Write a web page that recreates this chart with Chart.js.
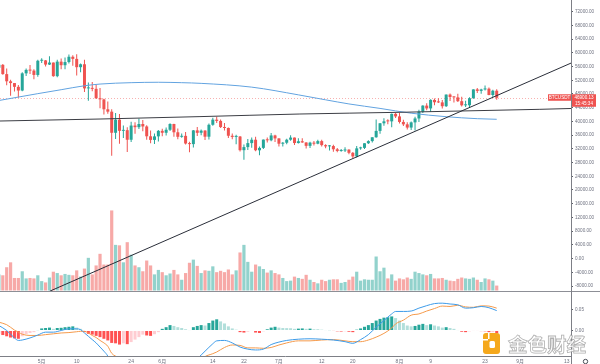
<!DOCTYPE html>
<html>
<head>
<meta charset="utf-8">
<script src="https://cdn.jsdelivr.net/npm/chart.js@4.4.1/dist/chart.umd.min.js"></script>
<style>
html,body{margin:0;padding:0;background:#ffffff;}
#wrap{width:600px;height:364px;position:relative;overflow:hidden;}
</style>
</head>
<body>
<div id="wrap"><canvas id="c" width="600" height="364"></canvas></div>
<script>
// ---------- DATA (day index: 0 = 1 May 2021, first candle = 20 Apr) ----------
const firstDay = -11;
const opens = [55664,56499,53800,51701,51187,50089,49004,54021,55033,54824,53555,
57697,57797,56578,57169,53200,57436,56393,57314,58862,58240,55816,
56670,49631,49671,49500,46762,46431,43538,42849,36690,40526,
37252,37449,34655,38796,38324,39241,38529,35663,34606,35641,
37253,36694,37568,39246,36829,35517,35796,33556,33381,37389,
36697,37340,35546,39020,40517,40144,38349,38093,35820,35483,
35601,31614,32510,33675,34663,31577,32283,34702,34494,35911,
35045,33502,33787,34668,35288,33690,34220,33862,32875,33815,
33502,34259,33086,32730,32820,31874,31384,31520,31778,30839,
29790,32144,32287,33635,34259,35376,37242,39456,40019,40018,
42206,41461,39850,39146,38207,39723,40862,42836,44614,43794,
46281,45596,45551,44439,47834,47110,47014,45903,44696,44709,
46769,49339,48906,49322,49547,47706,48960];
const highs = [57038,56757,55410,52130,51200,50591,54356,55460,56428,55195,58000,
58458,57911,58981,57200,57963,58360,58650,59500,59300,59592,56862,
58000,51367,51483,50700,49720,46643,45799,43546,42451,42200,
38829,38270,39920,39791,40841,40411,38877,37338,36488,37499,
37894,38225,39476,39289,37925,36480,36900,34068,37534,38400,
37680,37436,39380,41064,41330,40528,39560,38202,36457,36138,
35750,33298,34881,35298,35500,32700,34749,35297,36600,36100,
35057,33977,34945,35967,35293,35118,35059,33929,34100,34262,
34666,34679,33340,33114,33185,32249,31936,32435,31899,31063,
32858,32591,33650,34500,35398,40550,39542,40900,40640,42317,
42448,42599,40459,39780,39969,41350,43392,44700,45310,46454,
46700,46743,46218,47886,48144,47372,48053,47160,46000,47033,
49382,49757,49500,50500,49875,49229,49368];
const lows = [53329,53596,50583,47500,48753,46930,48817,53222,53813,52330,53013,
57052,56035,56435,53046,52900,55200,55241,56900,56235,53400,54370,
48600,46000,48800,46555,43825,42001,42250,30000,34850,33488,
35200,31111,34031,36419,37800,37134,34684,33632,33379,34153,
35667,35920,37170,35555,34800,35258,33300,31000,32397,35782,
35936,34600,34758,38730,39506,38116,37365,35129,34803,33336,
31251,28805,31683,32286,31275,30151,31973,33862,34225,34017,
32711,32699,33316,34357,33125,33532,33777,32078,32261,33004,
33306,32658,32202,31550,31133,31020,31164,31108,30408,29278,
29482,31708,31925,33401,33851,35205,36383,38772,39200,38313,
41000,39422,38690,37642,37508,37332,39853,42446,43261,42779,
44723,45341,43770,44217,45971,45500,45660,44376,44203,43927,
46644,48274,48050,49029,47600,47119,46300];
const closes = [56499,53800,51701,51187,50089,49004,54021,55033,54824,53555,57697,
57797,56578,57169,53200,57436,56393,57314,58862,58240,55816,56670,
49631,49671,49500,46762,46431,43538,42849,36690,40526,37252,
37449,34655,38796,38324,39241,38529,35663,34605,35641,37253,
36693,37568,39246,36829,35513,35796,33552,33380,37388,36675,
37313,35546,39020,40516,40144,38349,38092,35820,35483,35600,
31608,32509,33678,34663,31584,32283,34700,34494,35911,35045,
33504,33787,34668,35287,33690,34220,33862,32875,33815,33502,
34259,33086,32729,32820,31880,31383,31520,31778,30839,29791,
32144,32287,33634,34258,35381,37237,39457,40020,40016,42206,
41461,39846,39147,38207,39723,40862,42836,44614,43792,46285,
45595,45551,44428,47833,47110,47014,45902,44696,44705,46760,
49339,48905,49321,49546,47706,48960,46900.13];
const volumes = [36,34,52,63,28,28,43,27,28,27,34,
21,18,29,42,39,34,37,35,34,45,31,
49,73,36,56,82,58,58,179,102,101,
63,108,80,56,52,43,67,56,36,46,
41,34,38,46,36,24,39,62,69,55,
39,45,44,54,41,44,41,47,36,45,
85,102,64,42,58,54,48,40,45,39,
36,28,21,22,31,28,26,35,24,19,
16,24,21,24,25,25,17,19,24,31,
42,22,25,24,24,76,43,51,27,36,
22,27,25,29,26,42,39,36,34,37,
27,27,28,24,22,21,26,29,27,26,
29,24,19,27,25,22,11];
const macdHist = [-0.008,-0.011,-0.014,-0.017,-0.019,-0.020,-0.014,-0.009,-0.006,-0.004,0.001,
0.005,0.006,0.007,0.004,0.006,0.0065,0.008,0.009,0.010,0.007,0.004,
-0.004,-0.008,-0.010,-0.013,-0.016,-0.020,-0.024,-0.030,-0.031,-0.034,
-0.031,-0.033,-0.028,-0.022,-0.016,-0.010,-0.012,-0.013,-0.009,-0.004,
0.004,0.008,0.013,0.011,0.008,0.006,0.003,0.001,0.008,0.011,
0.013,0.012,0.018,0.024,0.027,0.022,0.017,0.010,0.005,0.002,
-0.004,-0.005,-0.003,-0.001,-0.005,-0.006,-0.002,0.003,0.007,0.009,
0.007,0.006,0.0058,0.0055,0.004,0.0045,0.005,0.004,0.0045,0.003,
0.003,0.002,0.001,0.0005,-0.001,-0.002,-0.0025,-0.002,-0.003,-0.004,
0.002,0.005,0.009,0.013,0.018,0.024,0.028,0.031,0.032,0.034,
0.030,0.024,0.018,0.012,0.010,0.011,0.014,0.016,0.013,0.015,
0.012,0.010,0.007,0.008,0.006,0.004,0.001,-0.003,-0.004,-0.002,
-0.001,-0.001,-0.0015,-0.002,-0.004,-0.004,-0.006];

// moving average (blue)
const maDays   = [-11,-6,-1,5,11,15,23,30,36,41,54,66,73,79,87,95,104,112,117];
const maValues = [46100,47100,48100,49250,50400,50900,51300,51420,51300,51100,50000,47750,46300,45100,43800,42400,41380,40800,40620];
// near-horizontal black line
const levelDays   = [-10.72,15,40.7,66.4,92.1,128.1,136.1];
const levelValues = [40120,40700,41400,42160,42660,43530,43770];
// rising trend line
const trendDays   = [2,136.1];
const trendValues = [-9550,57010];
// MACD / signal lines
const macdDays = [-11,-9,-7,-6,-5,-3,-1,1,3,5,7,9,10,11,12,13,14,15,16,17,18,20,22,24,26,28,30,32,34,36,38,40,42,44,45,47,49,51,53,55,57,59,61,63,66,69,72,75,78,80,82,84,86,88,90,91,93,95,97,99,101,103,105,107,109,111,113,115,117];
const macdValues = [0.012,0.000,-0.018,-0.024,-0.023,-0.018,-0.011,-0.004,-0.004,0.000,0.004,0.004,0.002,-0.006,-0.014,-0.022,-0.030,-0.040,-0.050,-0.062,-0.085,-0.100,-0.110,-0.110,-0.106,-0.108,-0.104,-0.094,-0.086,-0.084,-0.082,-0.068,-0.050,-0.032,-0.025,-0.024,-0.030,-0.040,-0.045,-0.047,-0.045,-0.034,-0.028,-0.024,-0.021,-0.020,-0.021,-0.023,-0.027,-0.031,-0.022,-0.010,0.008,0.024,0.040,0.046,0.046,0.047,0.054,0.060,0.065,0.066,0.064,0.062,0.054,0.055,0.058,0.055,0.048];
const signalValues = [0.020,0.014,0.001,-0.004,-0.009,-0.012,-0.012,-0.010,-0.008,-0.006,-0.005,-0.003,-0.002,-0.002,-0.006,-0.012,-0.017,-0.024,-0.030,-0.038,-0.055,-0.066,-0.077,-0.088,-0.096,-0.095,-0.100,-0.102,-0.097,-0.090,-0.083,-0.079,-0.063,-0.056,-0.052,-0.041,-0.035,-0.036,-0.042,-0.042,-0.043,-0.041,-0.035,-0.030,-0.025,-0.025,-0.023,-0.022,-0.025,-0.027,-0.027,-0.023,-0.016,-0.007,0.006,0.016,0.025,0.037,0.040,0.047,0.053,0.059,0.058,0.061,0.057,0.056,0.0595,0.059,0.054];

// axis ticks
const xTickDays   = [0,9,23,31,44,52,61,72,80,92,100,114,123,135];
const xTickLabels = ['5月','10','24','6月','14','22','7月','12','20','8月','9','23','9月','13'];
const priceTicks  = [72000,68000,64000,60000,56000,52000,48000,44000,40000,36000,32000,28000,24000,20000,16000,12000,8000,4000,0,-4000,-8000];
const macdTicks   = [0,0.05];
const symbol = 'BTCUSDT';
const countdown = '15:45:34';

// ---------- STYLE ----------
const UP = '#26a69a', DOWN = '#ef5350';
const VOL_UP = 'rgba(38,166,154,0.5)', VOL_DOWN = 'rgba(239,83,80,0.5)';
const FONT = '"Liberation Sans", "Noto Sans CJK SC", sans-serif';
const TXT = '#6f7280';

const days = opens.map((_, i) => firstDay + i);
const up = i => closes[i] >= opens[i];
const histColor = macdHist.map((v, i) => {
  const p = i > 0 ? macdHist[i - 1] : v;
  if (v >= 0) return v > p ? '#26a69a' : '#b2dfdb';
  return v < p ? '#ff5252' : '#ffcdd2';
});
const lastClose = closes[closes.length - 1];

const overlay = {
  id: 'overlay',
  beforeDatasetsDraw(chart) {
    const ctx = chart.ctx, a = chart.chartArea;
    const y = Math.round(chart.scales.y.getPixelForValue(lastClose)) + 0.5;
    ctx.save();
    ctx.strokeStyle = 'rgba(239,83,80,0.45)';
    ctx.setLineDash([1, 2]);
    ctx.lineWidth = 1;
    ctx.beginPath(); ctx.moveTo(a.left, y); ctx.lineTo(a.right, y); ctx.stroke();
    ctx.restore();
  },
  afterDraw(chart) {
    const ctx = chart.ctx, a = chart.chartArea;
    const ys = chart.scales.y;
    ctx.save();
    ctx.lineWidth = 1;
    ctx.strokeStyle = '#8d8f96';
    const sep = Math.round(ys.bottom) + 0.5;
    ctx.beginPath(); ctx.moveTo(0, sep); ctx.lineTo(600, sep); ctx.stroke();
    ctx.strokeStyle = '#7d7f86';
    ctx.beginPath(); ctx.moveTo(a.left, a.bottom + 0.5); ctx.lineTo(a.right, a.bottom + 0.5); ctx.stroke();
    ctx.beginPath(); ctx.moveTo(a.right + 0.5, 0); ctx.lineTo(a.right + 0.5, 364); ctx.stroke();

    // last price labels
    const py = ys.getPixelForValue(lastClose);
    const col = closes[closes.length - 1] >= opens[opens.length - 1] ? UP : DOWN;
    ctx.fillStyle = col;
    ctx.fillRect(548, py - 3.5, 23, 6.5);
    ctx.fillRect(a.right + 1, py - 3.5, 24, 12.5);
    ctx.fillStyle = '#ffffff';
    ctx.font = '4.6px ' + FONT;
    ctx.textBaseline = 'middle';
    ctx.textAlign = 'center';
    ctx.fillText(symbol, 559.5, py);
    ctx.fillText(lastClose.toFixed(2), a.right + 13, py);
    ctx.fillText(countdown, a.right + 13, py + 6);

    // watermark
    ctx.fillStyle = '#f5a81c';
    ctx.beginPath();
    ctx.roundRect(483, 333, 17, 21, 3);
    ctx.fill();
    ctx.fillStyle = '#ffffff';
    ctx.fillRect(483, 339, 5, 1.5);
    ctx.fillRect(488, 333, 1.5, 6);
    ctx.beginPath();
    ctx.roundRect(489.5, 341, 5.5, 7, 1.5);
    ctx.fill();
    ctx.font = 'bold 19.5px "Noto Sans CJK SC", sans-serif';
    ctx.textAlign = 'left';
    ctx.textBaseline = 'middle';
    ctx.fillStyle = 'rgba(255,255,255,0.85)';
    ctx.fillText('金色财经', 508, 345);
    ctx.strokeStyle = 'rgba(150,150,150,0.75)';
    ctx.lineWidth = 0.8;
    ctx.strokeText('金色财经', 508, 345);

    // settings icon
    ctx.strokeStyle = '#4a4d57';
    ctx.lineWidth = 1;
    ctx.beginPath(); ctx.arc(585.5, 361.5, 2.2, 0, Math.PI * 2); ctx.stroke();
    ctx.restore();
  }
};

new Chart(document.getElementById('c'), {
  type: 'bar',
  data: {
    datasets: [
      { type: 'line', data: trendDays.map((d, i) => ({ x: d, y: trendValues[i] })),
        borderColor: '#2a2e39', borderWidth: 1, pointRadius: 0, yAxisID: 'y', clip: 0 },
      { type: 'line', data: levelDays.map((d, i) => ({ x: d, y: levelValues[i] })),
        borderColor: '#3b3d44', borderWidth: 1, pointRadius: 0, cubicInterpolationMode: 'monotone', yAxisID: 'y', clip: 0 },
      { type: 'line', data: maDays.map((d, i) => ({ x: d, y: maValues[i] })),
        borderColor: '#62a3e0', borderWidth: 1, pointRadius: 0, cubicInterpolationMode: 'monotone', yAxisID: 'y', clip: 0 },
      { type: 'bar', data: days.map((d, i) => ({ x: d, y: [opens[i], closes[i]] })),
        backgroundColor: days.map((d, i) => up(i) ? UP : DOWN), barThickness: 3, grouped: false,
        minBarLength: 1, borderWidth: 0, inflateAmount: 0, yAxisID: 'y' },
      { type: 'bar', data: days.map((d, i) => ({ x: d, y: [lows[i], highs[i]] })),
        backgroundColor: days.map((d, i) => up(i) ? UP : DOWN), barThickness: 1, grouped: false,
        borderWidth: 0, inflateAmount: 0, yAxisID: 'y' },
      { type: 'bar', data: days.map((d, i) => ({ x: d, y: volumes[i] })),
        backgroundColor: days.map((d, i) => up(i) ? VOL_UP : VOL_DOWN), barThickness: 3.2, grouped: false,
        borderWidth: 0, inflateAmount: 0, yAxisID: 'yVol' },
      { type: 'line', data: macdDays.map((d, i) => ({ x: d, y: macdValues[i] })),
        borderColor: '#3d9be9', borderWidth: 1, pointRadius: 0, cubicInterpolationMode: 'monotone', yAxisID: 'yMacd', clip: 0 },
      { type: 'line', data: macdDays.map((d, i) => ({ x: d, y: signalValues[i] })),
        borderColor: '#f59a4b', borderWidth: 1, pointRadius: 0, cubicInterpolationMode: 'monotone', yAxisID: 'yMacd', clip: 0 },
      { type: 'bar', data: days.map((d, i) => ({ x: d, y: macdHist[i] })),
        backgroundColor: histColor, barThickness: 3, grouped: false,
        borderWidth: 0, inflateAmount: 0, yAxisID: 'yMacd' }
    ]
  },
  options: {
    responsive: false,
    devicePixelRatio: 1,
    animation: false,
    layout: { padding: 0 },
    plugins: { legend: { display: false }, tooltip: { enabled: false } },
    scales: {
      x: {
        type: 'linear', min: -10.72, max: 136.1, offset: false,
        grid: { display: false, drawTicks: false }, border: { display: false },
        afterBuildTicks: s => { s.ticks = xTickDays.map(v => ({ value: v })); },
        ticks: { autoSkip: false, maxRotation: 0, padding: 2.5, color: TXT,
          font: { size: 5, family: FONT },
          callback: v => { const i = xTickDays.indexOf(v); return i >= 0 ? xTickLabels[i] : ''; } },
        afterFit: s => { s.height = 8; s.paddingLeft = 0; s.paddingRight = 0; }
      },
      y: {
        type: 'linear', position: 'right', stack: 'panes', stackWeight: 291,
        min: -9457, max: 75412,
        afterBuildTicks: s => { s.ticks = priceTicks.map(v => ({ value: v })); },
        ticks: { autoSkip: false, padding: 2, color: TXT, font: { size: 4.6, family: FONT },
          callback: v => Number(v).toFixed(2) },
        grid: { display: true, drawOnChartArea: false, drawTicks: true, tickLength: 2, color: '#5d6069' },
        border: { display: false },
        afterFit: s => { s.width = 29; s.paddingTop = 0; s.paddingBottom = 0; }
      },
      yMacd: {
        type: 'linear', position: 'right', stack: 'panes', stackWeight: 65,
        min: -0.0616, max: 0.0954,
        afterBuildTicks: s => { s.ticks = macdTicks.map(v => ({ value: v })); },
        ticks: { autoSkip: false, padding: 2, color: TXT, font: { size: 4.6, family: FONT },
          callback: v => Number(v).toFixed(2) },
        grid: { display: true, drawOnChartArea: false, drawTicks: true, tickLength: 2, color: '#5d6069' },
        border: { display: false },
        afterFit: s => { s.width = 29; s.paddingTop = 0; s.paddingBottom = 0; }
      },
      yVol: {
        type: 'linear', display: false, min: -146.5, max: 649.6
      }
    }
  },
  plugins: [overlay]
});
</script>
</body>
</html>
